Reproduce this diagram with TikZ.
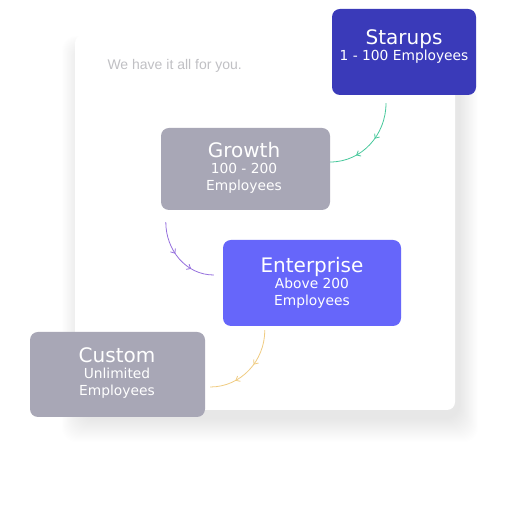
\documentclass[tikz,border=0pt]{standalone}
\usepackage{fontspec}
\setmainfont{DejaVu Sans}
\newfontfamily\cardfont{Liberation Sans}
\usepackage{xcolor}
\usepackage{tikz}
\usetikzlibrary{arrows.meta,positioning,calc,decorations.markings}

\definecolor{startblue}{RGB}{58,58,185}
\definecolor{planblue}{RGB}{102,102,250}
\definecolor{plangray}{RGB}{168,167,182}
\definecolor{flowgreen}{RGB}{70,200,155}
\definecolor{flowpurple}{RGB}{150,112,222}
\definecolor{flowyellow}{RGB}{240,204,130}
\definecolor{hintgray}{RGB}{192,192,196}

\begin{document}
\begin{tikzpicture}[
    x=1pt,y=1pt,
    plan/.style={rounded corners=8pt,inner sep=0pt},
    plantext/.style={text=white,align=center,inner sep=0pt,
      font=\fontsize{13.8}{17}\selectfont},
    flow/.style={draw=#1,line width=0.8pt,postaction={decorate},
      decoration={markings,
        mark=at position 0.42 with {\arrow{Straight Barb[length=3.5pt,width=6pt]}},
        mark=at position 0.70 with {\arrow{Straight Barb[length=3.5pt,width=6pt]}}}}
  ]
    \useasboundingbox[fill=white] (0,0) rectangle (529,526);

    % card with soft shadow
    \foreach \s in {1,...,24}
      \fill[black,opacity=0.0035,rounded corners=14pt]
        (81-\s*0.8,108-\s) rectangle (459+\s*0.8,478+\s*0.5);
    \node[fill=white,rounded corners=8pt,minimum width=380pt,minimum height=375pt,
      inner sep=0pt] (card) at (265,303.5) {};
    \node[anchor=west,text=hintgray,font=\cardfont\fontsize{14}{17}\selectfont]
      (cardtitle) at (104,460) {We have it all for you.};

    % plans
    \node[plan,fill=startblue,minimum width=144pt,minimum height=86pt] (starups) at (404,474) {};
    \node[plantext] (starupstext) at (404,479.5) {{\fontsize{20}{24}\selectfont Starups}\\[-1pt]1 - 100 Employees};

    \node[plan,fill=plangray,minimum width=169pt,minimum height=82pt] (growth) at (245.5,357) {};
    \node[plantext] (growthtext) at (244,358) {{\fontsize{20}{24}\selectfont Growth}\\[-1pt]100 - 200\\Employees};

    \node[plan,fill=planblue,minimum width=178pt,minimum height=86pt] (enterprise) at (312,243) {};
    \node[plantext] (enterprisetext) at (312,243) {{\fontsize{20}{24}\selectfont Enterprise}\\[-1pt]Above 200\\Employees};

    \node[plan,fill=plangray,minimum width=175pt,minimum height=85pt] (custom) at (117.5,151.5) {};
    \node[plantext] (customtext) at (117,153) {{\fontsize{20}{24}\selectfont Custom}\\[-1pt]Unlimited\\Employees};

    % connectors
    \draw[flow=flowgreen] ([xshift=-18pt,yshift=-8pt]starups.south)
      to[out=-90,in=0] ([yshift=7pt]growth.east);
    \draw[flow=flowpurple] ([xshift=5pt,yshift=-12pt]growth.south west)
      to[out=-90,in=180] ([xshift=-9pt,yshift=8pt]enterprise.west);
    \draw[flow=flowyellow] ([xshift=42pt,yshift=-4pt]enterprise.south west)
      to[out=-90,in=0] ([xshift=5pt,yshift=-12.5pt]custom.east);
  \end{tikzpicture}
\end{document}
